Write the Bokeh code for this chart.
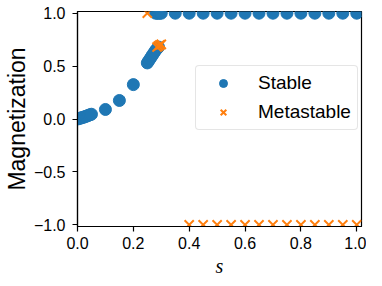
from bokeh.plotting import figure
from bokeh.models import FixedTicker, Range1d
from bokeh.embed import file_html
from bokeh.resources import INLINE

# Stable branch
stable_s = [0.0, 0.005, 0.01, 0.015, 0.02, 0.025, 0.03, 0.035, 0.04, 0.045, 0.05,
            0.1, 0.15, 0.2,
            0.25, 0.255, 0.26, 0.265, 0.27, 0.275, 0.28, 0.285, 0.29,
            0.28, 0.285, 0.29, 0.295, 0.3, 0.35, 0.4, 0.45, 0.5, 0.55, 0.6, 0.65,
            0.7, 0.75, 0.8, 0.85, 0.9, 0.95, 1.0]
stable_m = [0.0, 0.004, 0.008, 0.012, 0.016, 0.02, 0.025, 0.03, 0.035, 0.04, 0.045,
            0.09, 0.175, 0.325,
            0.53, 0.55, 0.57, 0.59, 0.61, 0.63, 0.65, 0.665, 0.68,
            1.0, 1.0, 1.0, 1.0, 1.0, 1.0, 1.0, 1.0, 1.0, 1.0, 1.0, 1.0,
            1.0, 1.0, 1.0, 1.0, 1.0, 1.0, 1.0]

# Metastable branch
meta_s = [0.25, 0.285, 0.29, 0.295, 0.3,
          0.4, 0.45, 0.5, 0.55, 0.6, 0.65, 0.7, 0.75, 0.8, 0.85, 0.9, 0.95, 1.0]
meta_m = [1.0, 0.68, 0.69, 0.70, 0.705,
          -1.0, -1.0, -1.0, -1.0, -1.0, -1.0, -1.0, -1.0, -1.0, -1.0, -1.0, -1.0, -1.0]

x_ticks = [0.0, 0.2, 0.4, 0.6, 0.8, 1.0]
x_tick_labels = ["0.0", "0.2", "0.4", "0.6", "0.8", "1.0"]
y_ticks = [-1.0, -0.5, 0.0, 0.5, 1.0]
y_tick_labels = ["\u22121.0", "\u22120.5", "0.0", "0.5", "1.0"]

BLUE = "#1f77b4"
ORANGE = "#ff7f0e"
FONT = "Liberation Sans"

p = figure(width=366, height=282, output_backend="svg", toolbar_location=None,
           x_range=Range1d(0.0, 1.017), y_range=Range1d(-1.016, 1.016),
           min_border_left=71, min_border_right=5, min_border_top=11, min_border_bottom=56)

p.scatter(stable_s, stable_m, marker="circle", size=12, fill_color=BLUE,
          line_color=BLUE, legend_label="Stable")
p.scatter(meta_s, meta_m, marker="x", size=13, line_color=ORANGE, line_width=2,
          legend_label="Metastable")

p.xgrid.visible = False
p.ygrid.visible = False
p.outline_line_color = "black"
p.outline_line_width = 1.2
p.outline_line_alpha = 1.0

for ax in (p.xaxis[0], p.yaxis[0]):
    ax.axis_line_color = "black"
    ax.axis_line_width = 1.2
    ax.major_tick_line_color = "black"
    ax.major_tick_line_width = 1.2
    ax.major_tick_in = 0
    ax.major_tick_out = 5
    ax.minor_tick_line_color = None
    ax.major_label_text_font = FONT
    ax.major_label_text_font_size = "16px"
    ax.major_label_text_color = "black"
    ax.axis_label_text_color = "black"

p.xaxis.ticker = FixedTicker(ticks=x_ticks)
p.xaxis.major_label_overrides = dict(zip(x_ticks, x_tick_labels))
p.yaxis.ticker = FixedTicker(ticks=y_ticks)
p.yaxis.major_label_overrides = dict(zip(y_ticks, y_tick_labels))
p.xaxis.major_label_standoff = 5
p.yaxis.major_label_standoff = 7

p.xaxis.axis_label = "s"
p.xaxis.axis_label_text_font = "Liberation Serif"
p.xaxis.axis_label_text_font_style = "italic"
p.xaxis.axis_label_text_font_size = "20px"
p.xaxis.axis_label_standoff = 3
p.yaxis.axis_label = "Magnetization"
p.yaxis.axis_label_text_font = FONT
p.yaxis.axis_label_text_font_style = "normal"
p.yaxis.axis_label_text_font_size = "23px"
p.yaxis.axis_label_standoff = 1

lg = p.legend[0]
lg.location = (118, 96)
lg.label_text_font = FONT
lg.label_text_font_size = "19px"
lg.label_text_color = "black"
lg.padding = 6
lg.spacing = 7
lg.margin = 0
lg.glyph_width = 42
lg.glyph_height = 20
lg.label_standoff = 14
lg.label_height = 20
lg.border_line_color = "#cccccc"
lg.border_line_width = 1
lg.border_radius = 4
lg.background_fill_alpha = 0.8

open("out.html", "w").write(file_html(p, INLINE))
